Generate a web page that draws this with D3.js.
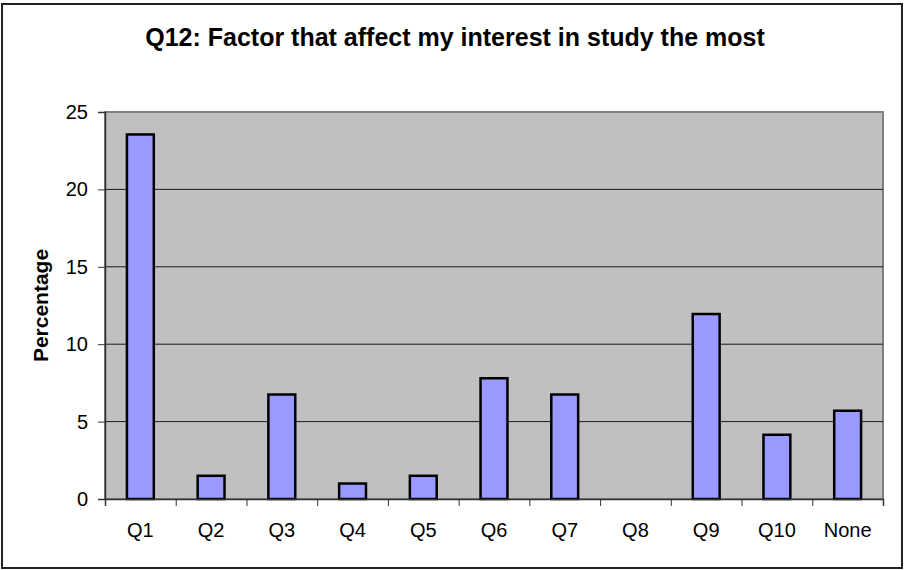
<!DOCTYPE html>
<html>
<head>
<meta charset="utf-8">
<script src="https://cdn.jsdelivr.net/npm/d3@7"></script>
<style>
  body { margin: 0; background: #fff; }
  text { font-family: Arial, "Liberation Sans", sans-serif; }
</style>
</head>
<body>
<svg id="chart" width="904" height="570"></svg>
<script>
// data
const categories = ['Q1', 'Q2', 'Q3', 'Q4', 'Q5', 'Q6', 'Q7', 'Q8', 'Q9', 'Q10', 'None']
const percentages = [23.55, 1.5, 6.75, 1.0, 1.5, 7.8, 6.75, 0, 11.95, 4.15, 5.7]
const yTicks = [0, 5, 10, 15, 20, 25]
const titleText = 'Q12: Factor that affect my interest in study the most'
const yLabel = 'Percentage'

const svg = d3.select('#chart')
const plot = { left: 105, right: 883, top: 112, bottom: 499 }

// outer frame
svg.append('rect')
  .attr('x', 2).attr('y', 4)
  .attr('width', 900).attr('height', 564)
  .attr('fill', '#fff')
  .attr('stroke', '#222')
  .attr('stroke-width', 2)

//scales
const xScale = d3.scaleBand()
  .domain(categories)
  .range([plot.left, plot.right])
  .paddingInner(0.62)
  .paddingOuter(0.31)

const xEdges = d3.scaleLinear()
  .domain([0, categories.length])
  .range([plot.left, plot.right])

const yScale = d3.scaleLinear()
  .domain([0, 25])
  .range([plot.bottom, plot.top])

// plot background
svg.append('rect')
  .attr('x', plot.left).attr('y', plot.top)
  .attr('width', plot.right - plot.left)
  .attr('height', plot.bottom - plot.top)
  .attr('fill', '#c0c0c0')
  .attr('stroke', '#808080')
  .attr('stroke-width', 2)

// gridlines
svg.append('g')
  .selectAll('line')
  .data(yTicks.filter(d => d > 0 && d < 25))
  .join('line')
  .attr('x1', plot.left).attr('x2', plot.right)
  .attr('y1', d => yScale(d)).attr('y2', d => yScale(d))
  .attr('stroke', '#1a1a1a')
  .attr('stroke-width', 1)

// bars
svg.append('g')
  .selectAll('.bar')
  .data(percentages)
  .join('rect')
  .attr('class', 'bar')
  .attr('x', (v, i) => xScale(categories[i]))
  .attr('y', v => yScale(v))
  .attr('width', xScale.bandwidth())
  .attr('height', v => yScale(0) - yScale(v))
  .attr('fill', '#9999ff')
  .attr('stroke', '#000')
  .attr('stroke-width', 2.5)
  .attr('display', v => v > 0 ? null : 'none')

// y axis
const yAxis = d3.axisLeft(yScale).tickValues(yTicks).tickSize(7).tickPadding(10)
const yAxisGroup = svg.append('g')
  .attr('transform', `translate(${plot.left}, 0)`)
  .call(yAxis)
yAxisGroup.select('.domain').attr('stroke', '#333').attr('stroke-width', 1.5)
yAxisGroup.selectAll('.tick line').attr('stroke', '#333')
yAxisGroup.selectAll('.tick text')
  .attr('font-size', 20)
  .attr('fill', '#000')
  .attr('font-family', 'Arial, "Liberation Sans", sans-serif')

// x axis: tick marks at category edges
const xTickAxis = d3.axisBottom(xEdges)
  .tickValues(d3.range(categories.length + 1))
  .tickSize(7)
  .tickFormat('')
const xTickGroup = svg.append('g')
  .attr('transform', `translate(0, ${plot.bottom})`)
  .call(xTickAxis)
xTickGroup.select('.domain').attr('stroke', '#333').attr('stroke-width', 1.5)
xTickGroup.selectAll('.tick line').attr('stroke', '#333')

// x axis labels
const xLabelAxis = d3.axisBottom(xScale).tickSize(0).tickPadding(24)
const xLabelGroup = svg.append('g')
  .attr('transform', `translate(0, ${plot.bottom})`)
  .call(xLabelAxis)
xLabelGroup.select('.domain').remove()
xLabelGroup.selectAll('.tick text')
  .attr('font-size', 20)
  .attr('fill', '#000')
  .attr('font-family', 'Arial, "Liberation Sans", sans-serif')

// title
svg.append('text')
  .attr('x', 455).attr('y', 46)
  .attr('text-anchor', 'middle')
  .attr('font-size', 25)
  .attr('font-weight', 'bold')
  .text(titleText)

// y label
svg.append('text')
  .attr('transform', `translate(48, ${(plot.top + plot.bottom) / 2}) rotate(-90)`)
  .attr('text-anchor', 'middle')
  .attr('font-size', 21)
  .attr('font-weight', 'bold')
  .text(yLabel)
</script>
</body>
</html>
